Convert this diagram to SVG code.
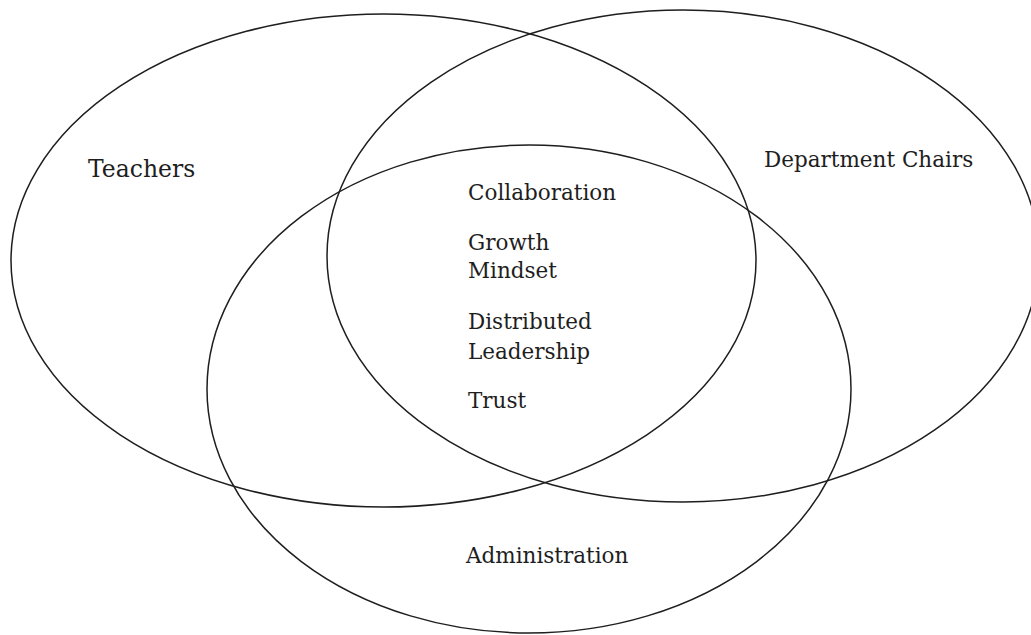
<svg xmlns="http://www.w3.org/2000/svg" width="1031" height="635" viewBox="0 0 1031 635">
<style>
.c{fill:none;stroke:#1e1e1e;stroke-width:1.5}
text{font-family:"DejaVu Serif","Liberation Serif",serif;font-size:21.5px;fill:#1e1e1e}
.big{font-size:23.5px}
</style>
<rect width="1031" height="635" fill="#fff"/>
<g id="teachers"><ellipse class="c" cx="383.5" cy="260.5" rx="372.5" ry="246.5"/><text class="big" x="88" y="177">Teachers</text></g>
<g id="department-chairs"><ellipse class="c" cx="683" cy="256" rx="356" ry="246"/><text x="764" y="167">Department Chairs</text></g>
<g id="administration"><ellipse class="c" cx="529" cy="389" rx="322" ry="244"/><text x="466" y="563">Administration</text></g>
<g id="center">
<text x="468" y="200">Collaboration</text>
<text x="468" y="250">Growth</text>
<text x="468" y="278">Mindset</text>
<text x="468" y="329">Distributed</text>
<text x="468" y="359">Leadership</text>
<text x="468" y="408">Trust</text>
</g>
</svg>
